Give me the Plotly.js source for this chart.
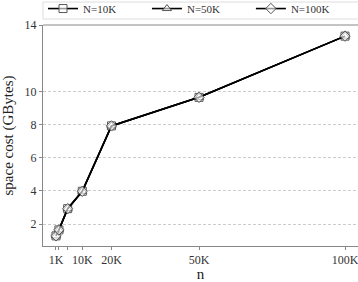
<!DOCTYPE html>
<html>
<head>
<meta charset="utf-8">
<script src="https://cdn.plot.ly/plotly-3.0.1.min.js"></script>
<style>html,body{margin:0;padding:0;background:#fff;}#chart{width:358px;height:282px;}</style>
</head>
<body>
<div id="chart"></div>
<script>
// n values (number of items)
const nValues = [1000, 2000, 5000, 10000, 20000, 50000, 100000];
// space cost (GBytes) for each N
const costN10K  = [1.29, 1.65, 2.93, 3.98, 7.92, 9.64, 13.33];
const costN50K  = [1.29, 1.65, 2.93, 3.98, 7.92, 9.64, 13.33];
const costN100K = [1.29, 1.65, 2.93, 3.98, 7.92, 9.64, 13.33];
const seriesNames = ["N=10K", "N=50K", "N=100K"];
const xTickVals = [1000, 2000, 5000, 10000, 20000, 50000, 100000];
const xTickText = ["1K", "", "", "10K", "20K", "50K", "100K"];
const yTickVals = [2, 4, 6, 8, 10, 14];

const serif = "Liberation Serif, Times New Roman, serif";
const symbols = ["square", "triangle-up", "diamond"];
const series = [costN10K, costN50K, costN100K];

const traces = series.map((ys, i) => ({
  x: nValues,
  y: ys,
  name: seriesNames[i],
  type: "scatter",
  mode: "lines+markers",
  line: {color: "#000", width: 1.6},
  marker: {symbol: symbols[i], size: 8, color: "rgba(255,255,255,0.6)",
           line: {color: "#555", width: 1}}
}));

const layout = {
  width: 358, height: 282,
  margin: {l: 43, r: 0, t: 25, b: 36, autoexpand: false},
  paper_bgcolor: "#fff", plot_bgcolor: "#fff",
  font: {family: serif, size: 12, color: "#222"},
  showlegend: true,
  legend: {
    orientation: "h", x: 0, xanchor: "left",
    yref: "paper", y: 1.14, yanchor: "top",
    borderwidth: 0, bgcolor: "rgba(255,255,255,0)",
    font: {family: serif, size: 11, color: "#333"},
    entrywidth: 0.33, entrywidthmode: "fraction", itemwidth: 30,
    tracegroupgap: 0
  },
  xaxis: {
    range: [-3450, 104450],
    tickvals: xTickVals, ticktext: xTickText,
    ticks: "outside", ticklen: 3, tickcolor: "#888",
    showgrid: false, zeroline: false,
    showline: true, linecolor: "#888", linewidth: 1,
    ticklabeloverflow: "allow", automargin: false,
    tickfont: {family: serif, size: 12, color: "#333"},
    title: {text: "n", font: {family: serif, size: 15, color: "#222"}, standoff: 4}
  },
  yaxis: {
    range: [0.68, 14],
    tickvals: yTickVals,
    ticks: "outside", ticklen: 3, tickcolor: "#888",
    showgrid: true, gridcolor: "#ccc", griddash: "3px,2px", gridwidth: 1,
    zeroline: false, automargin: false,
    showline: true, linecolor: "#888", linewidth: 1,
    tickfont: {family: serif, size: 12, color: "#333"},
    title: {text: "space cost (GBytes)", font: {family: serif, size: 15, color: "#222"}, standoff: 8}
  },
  shapes: [
    {type: "line", xref: "paper", yref: "paper", x0: 0, x1: 1, y0: 1, y1: 1,
     line: {color: "#888", width: 1}},
    {type: "rect", xref: "paper", yref: "paper", x0: 0, x1: 1.05, y0: 1.027, y1: 1.104,
     line: {color: "#ddd", width: 1}, fillcolor: "rgba(0,0,0,0)", layer: "below"}
  ]
};

Plotly.newPlot("chart", traces, layout, {displayModeBar: false, staticPlot: true});
</script>
</body>
</html>
